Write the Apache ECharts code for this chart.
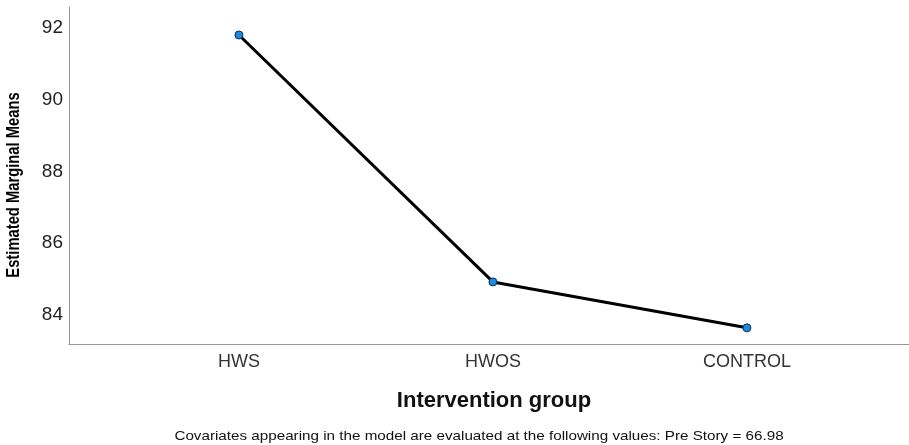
<!DOCTYPE html>
<html>
<head>
<meta charset="utf-8">
<script src="https://cdn.jsdelivr.net/npm/echarts@6/dist/echarts.min.js"></script>
<style>html,body{margin:0;padding:0;background:#fff}#c{width:909px;height:445px}</style>
</head>
<body>
<div id="c"></div>
<script>
const categories = ['HWS', 'HWOS', 'CONTROL'];
const means = [91.8, 84.92, 83.64];
const yTicks = [84, 86, 88, 90, 92];
const xPositions = [1, 2, 3];
const xTitle = 'Intervention group';
const yTitle = 'Estimated Marginal Means';
const footnote = 'Covariates appearing in the model are evaluated at the following values: Pre Story = 66.98';

const chart = echarts.init(document.getElementById('c'), null, {renderer: 'canvas'});
chart.setOption({
  animation: false,
  backgroundColor: '#fff',
  grid: {left: 69, right: 0, top: 7, bottom: 101, containLabel: false, outerBoundsMode: 'none'},
  graphic: [
    {
      type: 'text', x: 14, y: 185, rotation: Math.PI / 2, scaleX: 0.82, scaleY: 1,
      style: {text: yTitle, font: 'bold 18px "Liberation Sans", Arial', fill: '#000', align: 'center', verticalAlign: 'middle'}
    },
    {
      type: 'text', x: 494, y: 401,
      style: {text: xTitle, font: 'bold 22px "Liberation Sans", Arial', fill: '#111', align: 'center', verticalAlign: 'middle'}
    },
    {
      type: 'text', x: 479, y: 436, scaleX: 1.17, scaleY: 1,
      style: {text: footnote, font: '13px "Liberation Sans", Arial', fill: '#111', align: 'center', verticalAlign: 'middle'}
    }
  ],
  xAxis: {
    type: 'value', min: 0.331, max: 3.638,
    axisLine: {show: true, lineStyle: {color: '#999', width: 1}},
    axisTick: {show: false},
    splitLine: {show: false},
    axisLabel: {
      customValues: xPositions, margin: 9,
      fontFamily: 'Liberation Sans, Arial', fontSize: 18, color: '#333',
      formatter: v => categories[Math.round(v) - 1] || ''
    }
  },
  yAxis: {
    type: 'value', min: 83.19, max: 92.58,
    axisLine: {show: true, lineStyle: {color: '#999', width: 1}},
    axisTick: {show: false},
    splitLine: {show: false},
    axisLabel: {
      customValues: yTicks, margin: 6,
      fontFamily: 'Liberation Sans, Arial', fontSize: 19, color: '#222'
    }
  },
  series: [{
    type: 'line',
    data: xPositions.map((x, i) => [x, means[i]]),
    symbol: 'circle', symbolSize: 8,
    lineStyle: {color: '#000', width: 3},
    itemStyle: {color: '#1e88e5', borderColor: '#0d3050', borderWidth: 1},
    z: 3
  }]
});
</script>
</body>
</html>
